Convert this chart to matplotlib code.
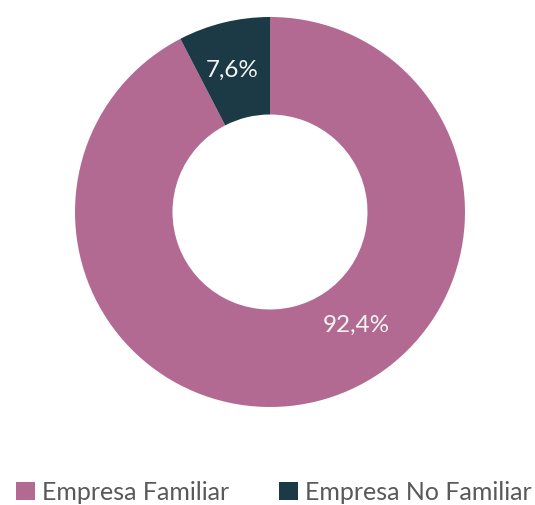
import matplotlib
matplotlib.use('Agg')
import matplotlib.pyplot as plt
from matplotlib.patches import Patch

categories = ['Empresa Familiar', 'Empresa No Familiar']
shares = [92.4, 7.6]
labels = ['92,4%', '7,6%']
colors = ['#B36A92', '#1B3A45']

plt.rcParams['font.family'] = ['Lato', 'DejaVu Sans']

fig = plt.figure(figsize=(5.35, 5.05), dpi=100)
ax = fig.add_axes([75/535, 1 - 407/505, 390/535, 390/505])

wedges, _ = ax.pie(shares, colors=colors, startangle=90, counterclock=False,
                   radius=1.0, wedgeprops=dict(width=0.5, edgecolor='none'))
ax.set_xlim(-1, 1)
ax.set_ylim(-1, 1)
ax.set_aspect('equal')
ax.axis('off')

# label positions (fraction of radius)
ax.text(0.445, -0.58, labels[0], ha='center', va='center', color='#F4F4F4',
        fontsize=17.5)
ax.text(-0.195, 0.725, labels[1], ha='center', va='center', color='#F4F4F4',
        fontsize=17.5)

handles = [Patch(facecolor=c, edgecolor='none') for c in colors]
fig.legend(handles, categories, loc='center', bbox_to_anchor=(0.512, 1 - 492/505),
           ncol=2, frameon=False, handlelength=0.75, handleheight=0.75,
           handletextpad=0.3, columnspacing=2.0, labelcolor='#595959',
           prop=dict(family=['Lato', 'DejaVu Sans'], size=18))

fig.savefig('out.png', dpi=100)
